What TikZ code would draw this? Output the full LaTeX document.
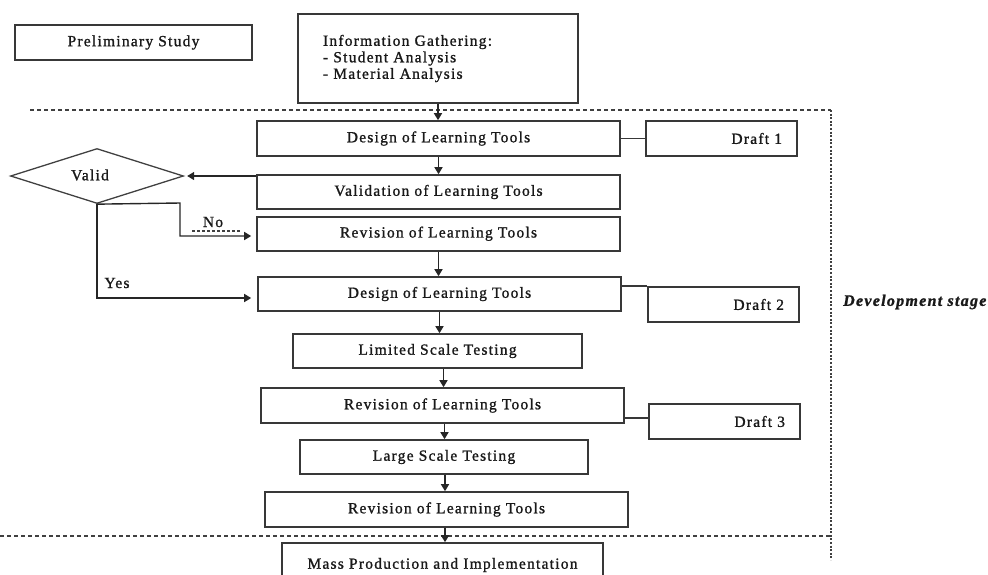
\documentclass[tikz,border=0pt]{standalone}
\usepackage{fontspec}
\setmainfont{Liberation Serif}[LetterSpace=8,FakeBold=1.2]
\usetikzlibrary{shapes.geometric,arrows.meta}
\begin{document}
\begin{tikzpicture}[x=1pt,y=-1pt,
  box/.style={draw=black!78, line width=1.6pt, rectangle, inner sep=0pt,
    font=\fontsize{15.5}{16.5}\selectfont, text=black!90},
  draftbox/.style={box, align=right, text width=121pt, inner xsep=15pt},
  arr/.style={draw=black!85, line width=1.4pt, -{Triangle[length=7pt,width=8pt]}},
  link/.style={draw=black!78, line width=1.6pt},
  lbl/.style={font=\fontsize{15.5}{16.5}\selectfont, text=black!90, inner sep=0pt},
  border/.style={draw=black!75, line width=1.6pt}]
\useasboundingbox (0,0) rectangle (988,574);
\clip (0,0) rectangle (988,574);

% top row
\node[box, minimum width=237pt, minimum height=35pt] (prelim) at (133.5,42.5) {Preliminary Study};
\node[box, minimum height=89pt, align=left, text width=230pt, inner xsep=25pt] (info) at (438,58.5)
  {Information Gathering:\\- Student Analysis\\- Material Analysis};

% main column
\node[box, minimum width=363pt, minimum height=35pt] (d1) at (438.5,138.5) {Design of Learning Tools};
\node[box, minimum width=363pt, minimum height=34pt] (val) at (438.5,192) {Validation of Learning Tools};
\node[box, minimum width=363pt, minimum height=34pt] (rev1) at (438.5,233.7) {Revision of Learning Tools};
\node[box, minimum width=363pt, minimum height=34pt] (d2) at (439.5,294) {Design of Learning Tools};
\node[box, minimum width=289pt, minimum height=34pt] (lim) at (437.5,351) {Limited Scale Testing};
\node[box, minimum width=363pt, minimum height=35pt] (rev2) at (442.5,405.5) {Revision of Learning Tools};
\node[box, minimum width=288pt, minimum height=34pt] (large) at (444,457) {Large Scale Testing};
\node[box, minimum width=363pt, minimum height=35pt] (rev3) at (446.5,509.5) {Revision of Learning Tools};
\node[box, minimum width=321pt, minimum height=44pt] (mass) at (442.5,565) {Mass Production and Implementation};

% drafts
\node[draftbox, minimum height=35pt] (dr1) at (721.5,138.5) {Draft 1};
\node[draftbox, minimum height=35pt] (dr2) at (723.5,304.5) {Draft 2};
\node[draftbox, minimum height=35pt] (dr3) at (724.5,421.5) {Draft 3};

% decision
\node[diamond, draw=black!75, line width=1.3pt, minimum width=173pt, minimum height=55pt, inner sep=0pt] (valid) at (97,176) {};
\node[lbl] (validtxt) at (90,175) {Valid};

% stage label
\node[lbl, anchor=west, font=\fontsize{16}{18}\selectfont\bfseries\itshape\addfontfeatures{LetterSpace=8}] (stage) at (843,302) {Development stage};

% stage borders
\coordinate (tl) at (30,110);
\coordinate (tr) at (831,110);
\coordinate (br) at (831,560);
\coordinate (bl) at (0,536);
\coordinate (bm) at (831,536);
\draw[border, dash pattern=on 4pt off 3pt] (tl) -- (tr);
\draw[border, line width=2pt, dash pattern=on 2pt off 1.6pt] (tr) -- (br);
\draw[border, dash pattern=on 4pt off 3pt] (bl) -- (bm);

% vertical arrows
\draw[arr] (info.south) -- (info.south |- d1.north);
\draw[arr] (d1.south) -- (d1.south |- val.north);
\draw[arr] (rev1.south) -- (rev1.south |- d2.north);
\draw[arr] (d2.south) -- (d2.south |- lim.north);
\draw[arr] ([xshift=6pt]lim.south) -- ([xshift=6pt]lim.south |- rev2.north);
\draw[arr] ([xshift=2pt]rev2.south) -- ([xshift=2pt]rev2.south |- large.north);
\draw[arr] ([xshift=1pt]large.south) -- ([xshift=1pt]large.south |- rev3.north);
\draw[arr] ([xshift=-1.5pt]rev3.south) -- ([xshift=-1.5pt]rev3.south |- mass.north);

% validation to decision
\draw[arr, shorten >=3pt] (val.west |- valid.east) -- (valid.east);

% No branch
\coordinate (nocorner1) at (180,203);
\coordinate (nocorner2) at (180,236);
\draw[arr, shorten >=5pt] (valid.south) -- (nocorner1) -- (nocorner2) -- (nocorner2 -| rev1.west);
\node[lbl] (nolbl) at (213,222) {No};
\coordinate (nodash1) at (192,231);
\coordinate (nodash2) at (241,231);
\draw[draw=black!75, line width=1.2pt, dash pattern=on 3pt off 2pt] (nodash1) -- (nodash2);

% Yes branch
\coordinate (yescorner) at (97,298);
\draw[arr, shorten >=6pt] (valid.south) -- (yescorner) -- (yescorner -| d2.west);
\node[lbl] (yeslbl) at (117,283) {Yes};

% draft links
\draw[link] (d1.east) -- (dr1.west);
\draw[link] (d2.east |- dr2.north west) -- (dr2.north west);
\coordinate (r2y) at (0,418);
\draw[link] (rev2.east |- r2y) -- (dr3.west |- r2y);
\end{tikzpicture}
\end{document}
